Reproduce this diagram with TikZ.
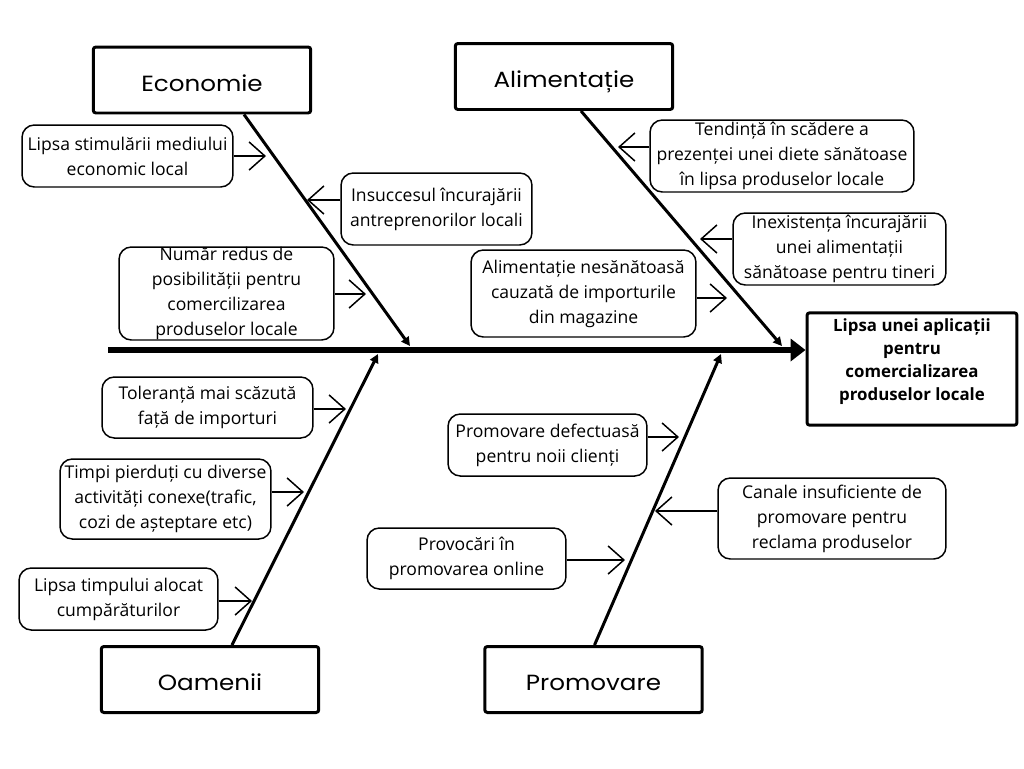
\documentclass[tikz,border=0pt]{standalone}
\usepackage{fontspec}
\setmainfont{Open Sans}
\newfontfamily\catfont[FakeStretch=1.12]{Poppins}
\usetikzlibrary{arrows.meta,calc}
\tikzset{
	category/.style={draw,line width=1.7pt,rounded corners=1.5pt,minimum width=4.35cm,minimum height=1.32cm,text height=13pt,text depth=0pt,font=\catfont\fontsize{12.5}{15}\selectfont},
	cause/.style={draw,line width=0.85pt,rounded corners=7pt,align=center,inner sep=0pt,font=\fontsize{10}{14.2}\selectfont},
	effect/.style={draw,line width=1.7pt,rounded corners=1.5pt,align=center,minimum width=4.2cm,minimum height=2.2cm,text depth=11pt,font=\bfseries\fontsize{9.6}{13}\selectfont},
	bone/.style={line width=1.7pt,-{Triangle[length=5pt,width=5pt]}},
	spine/.style={line width=3.4pt,-{Triangle[length=8.5pt,width=12.5pt]}},
	push/.style={line width=0.85pt,-{Straight Barb[length=9pt,width=16pt]}}
}
\begin{document}
\begin{tikzpicture}[x=0.02cm,y=-0.02cm]
		\useasboundingbox (0,0) rectangle (1024,768);
		\node[category](econ) at (202,80) {Economie};
		\node[category](alim) at (564,76.5) {Alimentație};
		\node[category](oam) at (210,679.5) {Oamenii};
		\node[category](prom) at (593.5,679.5) {Promovare};
		\node[effect](eff) at (912,369) {Lipsa unei aplicații\\pentru\\comercializarea\\produselor locale};
		\node[cause,minimum width=4.22cm,minimum height=1.24cm](c1) at (127.5,156) {Lipsa stimulării mediului\\economic local};
		\node[cause,minimum width=3.82cm,minimum height=1.44cm](c2) at (436.5,209) {Insuccesul încurajării\\antreprenorilor locali};
		\node[cause,minimum width=4.3cm,minimum height=1.86cm](c3) at (226.5,293.5) {Număr redus de\\posibilității pentru\\comercilizarea\\produselor locale};
		\node[cause,minimum width=5.28cm,minimum height=1.44cm](c4) at (782,156) {Tendință în scădere a\\prezenței unei diete sănătoase\\în lipsa produselor locale};
		\node[cause,minimum width=4.26cm,minimum height=1.44cm](c5) at (839.5,249) {Inexistența încurajării\\unei alimentații\\sănătoase pentru tineri};
		\node[cause,minimum width=4.5cm,minimum height=1.74cm](c6) at (583.5,293.5) {Alimentație nesănătoasă\\cauzată de importurile\\din magazine};
		\node[cause,minimum width=4.22cm,minimum height=1.22cm](c7) at (207.5,407.5) {Toleranță mai scăzută\\față de importuri};
		\node[cause,minimum width=4.22cm,minimum height=1.6cm](c8) at (165.5,499) {Timpi pierduți cu diverse\\activități conexe(trafic,\\cozi de așteptare etc)};
		\node[cause,minimum width=3.98cm,minimum height=1.24cm](c9) at (118.5,599) {Lipsa timpului alocat\\cumpărăturilor};
		\node[cause,minimum width=3.98cm,minimum height=1.24cm](c10) at (547.5,445) {Promovare defectuasă\\pentru noii clienți};
		\node[cause,minimum width=4.56cm,minimum height=1.62cm](c11) at (832,518.5) {Canale insuficiente de\\promovare pentru\\reclama produselor};
		\node[cause,minimum width=3.98cm,minimum height=1.22cm](c12) at (466.5,558.5) {Provocări în\\promovarea online};
		\coordinate (s) at (108,350);
		\coordinate (j1) at (410,346);
		\coordinate (j2) at (782,346);
		\coordinate (j3) at (378,354);
		\coordinate (j4) at (721,354);
		\coordinate (t1) at (266,156);
		\coordinate (t2) at (307,200);
		\coordinate (t3) at (366,294);
		\coordinate (t4) at (618,147);
		\coordinate (t5) at (700,239);
		\coordinate (t6) at (727,298);
		\coordinate (t7) at (346,409);
		\coordinate (t8) at (304,492);
		\coordinate (t9) at (252,601);
		\coordinate (t10) at (679,437);
		\coordinate (t11) at (655,511);
		\coordinate (t12) at (625,560);
		\draw[spine] (s) -- (s -| eff.west);
		\path[bone]
		($(econ.south)+(42,0)$) edge (j1)
		($(alim.south)+(17,0)$) edge (j2)
		($(oam.north)+(22,0)$) edge (j3)
		($(prom.north)+(1,0)$) edge (j4);
		\path[push]
		(c1.east |- t1) edge (t1)
		(c2.west |- t2) edge (t2)
		(c3.east |- t3) edge (t3)
		(c4.west |- t4) edge (t4)
		(c5.west |- t5) edge (t5)
		(c6.east |- t6) edge (t6)
		(c7.east |- t7) edge (t7)
		(c8.east |- t8) edge (t8)
		(c9.east |- t9) edge (t9)
		(c10.east |- t10) edge (t10)
		(c11.west |- t11) edge (t11)
		(c12.east |- t12) edge (t12);
\end{tikzpicture}
\end{document}
